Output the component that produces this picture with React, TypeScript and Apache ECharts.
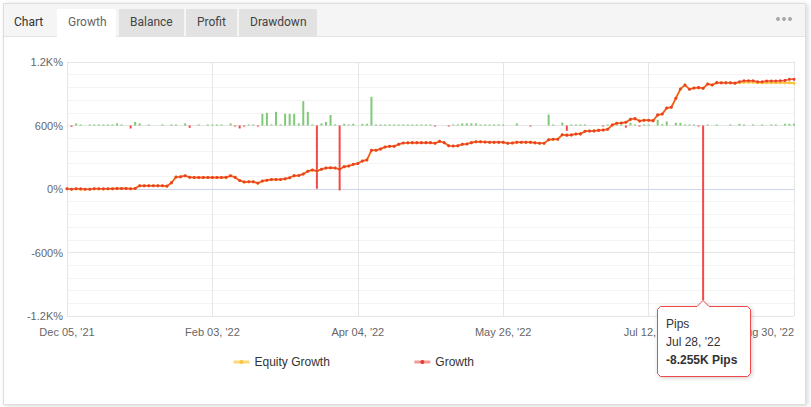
import { useEffect, useRef } from "react";
import * as echarts from "echarts";

// ---------- data ----------
const xTickLabels = ["Dec 05, '21", "Feb 03, '22", "Apr 04, '22", "May 26, '22", "Jul 12, '22", "Aug 30, '22"];
const pointsPerTick = 32;
const yTicks = [-1200, -600, 0, 600, 1200];
const yTickLabels = ["-1.2K%", "-600%", "0%", "600%", "1.2K%"];

const growth = [
  2, -3, 3, 2, -2, -2, 2, 3, 3, 3,
  3, 4, 4, 4, 3, 5, 31, 31, 31, 31,
  31, 31, 28, 60, 113, 115, 125, 110, 108, 108,
  108, 108, 108, 108, 108, 110, 125, 110, 80, 66,
  68, 68, 56, 75, 82, 90, 90, 90, 97, 107,
  126, 128, 142, 167, 180, 170, 186, 198, 201, 198,
  186, 211, 217, 233, 240, 265, 274, 365, 366, 378,
  397, 403, 404, 422, 435, 436, 438, 438, 438, 438,
  438, 432, 450, 438, 409, 406, 408, 422, 425, 438,
  447, 447, 444, 441, 441, 441, 441, 432, 434, 441,
  441, 441, 441, 436, 432, 432, 466, 470, 470, 513,
  509, 511, 519, 521, 545, 547, 549, 554, 557, 564,
  605, 621, 623, 630, 658, 665, 643, 649, 649, 646,
  700, 709, 766, 772, 857, 945, 983, 942, 955, 958,
  951, 992, 983, 1005, 1003, 1003, 1003, 1000, 1014, 1023,
  1023, 1023, 1014, 1014, 1020, 1020, 1020, 1023, 1026, 1036,
  1036,
];

const equityGrowth = [
  2, -3, 3, -4, -2, -2, 2, 3, -2, 3,
  3, 4, 4, 4, 3, 5, 31, 31, 31, 31,
  31, 31, 24, 60, 113, 115, 125, 110, 108, 108,
  108, 108, 108, 108, 108, 106, 125, 110, 80, 66,
  68, 68, 52, 75, 82, 90, 90, 90, 94, 107,
  126, 128, 142, 167, 180, 170, 186, 198, 201, 198,
  186, 211, 217, 233, 240, 265, 274, 365, 366, 378,
  397, 403, 404, 422, 435, 436, 438, 438, 438, 438,
  438, 432, 450, 438, 409, 406, 408, 422, 425, 438,
  447, 447, 444, 441, 441, 441, 441, 432, 434, 441,
  441, 441, 441, 436, 432, 432, 466, 470, 470, 513,
  509, 511, 519, 521, 545, 547, 549, 554, 557, 564,
  605, 621, 623, 630, 658, 665, 643, 649, 649, 646,
  700, 709, 766, 772, 857, 945, 983, 942, 955, 958,
  951, 992, 983, 1005, 1003, 1003, 1003, 1000, 1005, 1008,
  1008, 1008, 1003, 1003, 1005, 1005, 1005, 1005, 1003, 1003,
  1000,
];

const pips: (number | null)[] = [
  null, -60, 100, 50, null, 50, 50, 50, 50, 50,
  50, 100, 50, null, -140, 170, 100, null, 50, null,
  null, 50, null, 50, 50, null, 100, -110, null, 50,
  null, 50, 50, 50, 50, null, 100, -50, -140, -50,
  50, 50, -50, 550, 600, 50, 645, 50, 550, 550,
  550, 100, 1150, 645, 50, -2990, 100, 170, 500, 50,
  -3070, 80, 50, 80, null, 80, 80, 1355, 50, 50,
  50, 50, 50, 50, 50, 50, 50, 50, 50, 50,
  50, -50, null, null, -50, 50, 50, 100, 100, 100,
  100, 50, 50, 50, 50, 50, 50, null, null, 100,
  null, null, -50, null, null, null, 520, 50, null, 140,
  -250, 50, 50, 50, 50, null, null, null, -50, 50,
  50, 50, 50, -100, 125, 50, -50, 50, 50, null,
  270, 60, 190, null, 125, 125, 50, 50, 50, -50,
  -8255, 50, null, 50, null, null, 50, null, 80, 50,
  null, 50, null, 50, null, 50, 50, null, 80, 80,
  80,
];

const tooltipIndex = 140;
const tooltipDate = "Jul 28, '22";
const tabs = ["Growth", "Balance", "Profit", "Drawdown"];

// ---------- component ----------
export default function App() {
  const ref = useRef<HTMLDivElement>(null);

  useEffect(() => {
    if (!ref.current) return;
    const chart = echarts.init(ref.current, null, { renderer: "svg" });
    const font = "'Liberation Sans', Arial, sans-serif";
    const tabFont = "Roboto, 'Liberation Sans', Arial, sans-serif";
    const categories = growth.map((_, i) => String(i));

    const txt = (text: string, x: number, y: number, fill: string, size: number, weight = "normal", family = font) => ({
      type: "text",
      x,
      y,
      style: {
        text,
        fill,
        fontSize: size,
        fontWeight: weight,
        fontFamily: family,
        textAlign: "left",
        textVerticalAlign: "middle",
        align: "left",
        verticalAlign: "middle",
      },
    });

    const tabX = [57, 119, 186, 239];
    const tabW = [59, 65, 51, 78];
    const frame: any[] = [
      {
        type: "rect",
        z: -10,
        shape: { x: 3.5, y: 3.5, width: 802, height: 401 },
        style: { fill: "#ffffff", stroke: "#dddddd", lineWidth: 1, shadowBlur: 5, shadowColor: "rgba(0,0,0,0.15)", shadowOffsetX: 2, shadowOffsetY: 1 },
      },
      { type: "rect", z: -9, shape: { x: 4, y: 4, width: 801, height: 32.5 }, style: { fill: "#f5f5f5" } },
      { type: "line", z: -9, shape: { x1: 4, y1: 36.5, x2: 805, y2: 36.5 }, style: { stroke: "#e4e4e4", lineWidth: 1 } },
      txt("Chart", 14, 22, "#333333", 12, "normal", tabFont),
    ];
    tabs.forEach((t, i) => {
      frame.push({
        type: "rect",
        z: -8,
        shape: { x: tabX[i], y: 9, width: tabW[i], height: i === 0 ? 28 : 27 },
        style: { fill: i === 0 ? "#ffffff" : "#e2e2e2" },
      });
      frame.push(txt(t, tabX[i] + 11, 22, i === 0 ? "#666666" : "#444444", 12, "normal", tabFont));
    });
    [778, 784, 790].forEach((cx) =>
      frame.push({ type: "circle", shape: { cx, cy: 19, r: 2 }, style: { fill: "#a8a8a8" } })
    );

    const option: any = {
      animation: false,
      backgroundColor: "#ffffff",
      textStyle: { fontFamily: font },
      grid: { left: 67, right: 17, top: 62, bottom: 91, containLabel: false },
      legend: {
        left: 227,
        top: 351,
        itemGap: 83,
        itemWidth: 16,
        itemHeight: 5,
        textStyle: { fontSize: 12, color: "#333333", fontFamily: font },
        data: [
          { name: "Equity Growth", itemStyle: { color: "#f9c43f" }, lineStyle: { color: "#fdd978", width: 3 } },
          { name: "Growth", itemStyle: { color: "#e83a2d" }, lineStyle: { color: "#f29a96", width: 3 } },
        ],
      },
      xAxis: {
        type: "category",
        boundaryGap: false,
        data: categories,
        axisLine: { lineStyle: { color: "#ccd6eb", width: 1 } },
        axisTick: { show: false },
        axisLabel: {
          interval: pointsPerTick - 1,
          color: "#666666",
          fontSize: 11,
          fontFamily: font,
          margin: 10,
          alignMaxLabel: "right",
          formatter: (_v: string, i: number) => (i % pointsPerTick === 0 ? xTickLabels[i / pointsPerTick] : ""),
        },
        splitLine: { show: true, interval: pointsPerTick - 1, lineStyle: { color: "#e6e6e6", width: 1 } },
      },
      yAxis: [
        {
          type: "value",
          min: -1200,
          max: 1200,
          interval: 600,
          axisLine: { show: false },
          axisTick: { show: false },
          axisLabel: {
            color: "#666666",
            fontSize: 11,
            fontFamily: font,
            margin: 4,
            formatter: (v: number) => {
              const k = yTicks.indexOf(v);
              return k >= 0 ? yTickLabels[k] : "";
            },
          },
          splitLine: { lineStyle: { color: "#e6e6e6", width: 1 } },
          minorTick: { show: false, splitNumber: 5 },
          minorSplitLine: { show: true, lineStyle: { color: "#f3f3f3", width: 1 } },
        },
        {
          type: "value",
          min: -9000,
          max: 3000,
          interval: 3000,
          show: false,
          splitLine: { show: false },
        },
      ],
      series: [
        {
          name: "Pips",
          type: "bar",
          yAxisIndex: 1,
          data: pips,
          barWidth: 2,
          z: 1,
          itemStyle: {
            color: (p: any) => ((p.value as number) < 0 ? "#f44848" : "#7fca78"),
          },
        },
        {
          name: "Equity Growth",
          type: "line",
          data: equityGrowth,
          z: 2,
          symbol: "circle",
          symbolSize: 3,
          showAllSymbol: true,
          itemStyle: { color: "#f9c43f" },
          lineStyle: { color: "#f9c43f", width: 2 },
        },
        {
          name: "Growth",
          type: "line",
          data: growth,
          z: 3,
          symbol: "circle",
          symbolSize: 3,
          showAllSymbol: true,
          itemStyle: { color: "#e8402d" },
          lineStyle: { color: "#f4552a", width: 1.5 },
        },
      ],
      graphic: frame,
    };

    chart.setOption(option);

    const v = pips[tooltipIndex] as number;
    const tip = chart.convertToPixel({ xAxisIndex: 0, yAxisIndex: 1 } as any, [tooltipIndex, v]) as number[];
    const tx = Math.round(tip[0]);
    const ty = Math.round(tip[1]);
    const L = -45.5, R = 47.5, T = 6.5, B = 76.5, c = 3;
    const tooltip = {
      type: "group",
      x: tx,
      y: ty,
      z: 100,
      children: [
        {
          type: "polygon",
          z: 100,
          shape: {
            points: [
              [L + c, T], [-6, T], [0, 0.5], [6, T], [R - c, T], [R, T + c], [R, B - c], [R - c, B],
              [L + c, B], [L, B - c], [L, T + c],
            ],
          },
          style: { fill: "#ffffff", stroke: "#f04848", lineWidth: 1, shadowBlur: 4, shadowColor: "rgba(0,0,0,0.2)", shadowOffsetX: 1, shadowOffsetY: 1 },
        },
        { ...txt("Pips", -37, 23.5, "#333333", 12), z: 101 },
        { ...txt(tooltipDate, -37, 41.5, "#333333", 12), z: 101 },
        { ...txt(`${(v / 1000).toFixed(3)}K Pips`, -37, 59.5, "#333333", 12, "bold"), z: 101 },
      ],
    };

    chart.setOption({ graphic: [...frame, tooltip] });

    return () => chart.dispose();
  }, []);

  return (
    <div style={{ position: "absolute", left: 0, top: 0, width: 811, height: 407 }}>
      <div ref={ref} style={{ width: 811, height: 407 }} />
    </div>
  );
}
